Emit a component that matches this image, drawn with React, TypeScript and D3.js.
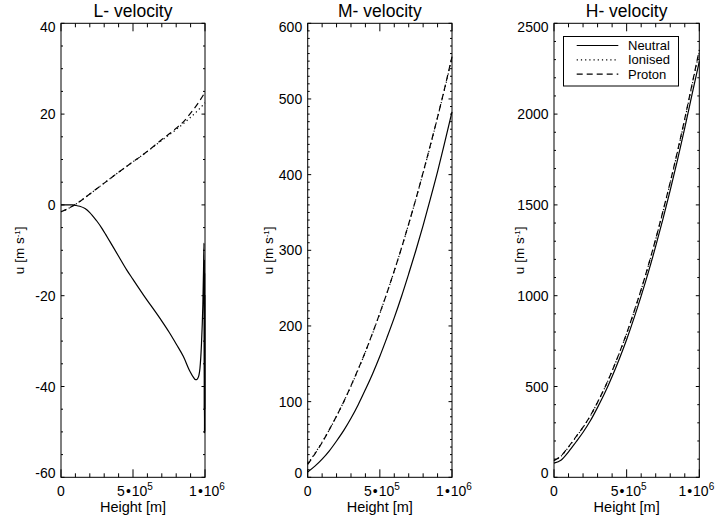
import React from 'react';
import * as d3 from 'd3';

// ---------- data ----------
const HEIGHT_GRID = [0, 50000, 100000, 150000, 200000, 250000, 300000, 350000, 400000, 450000, 500000,
  550000, 600000, 650000, 700000, 750000, 800000, 850000, 900000, 950000, 1000000];

const L_NEUTRAL_H = [0, 50000, 80000, 100000, 130000, 167000, 200000, 224000, 250000, 283000, 310000, 340000,
  400000, 456000, 500000, 572000, 687500, 750000, 803000, 850000, 896000, 920000, 935000, 942000, 950000,
  958000, 965000, 975000, 985000, 990000, 993000, 994500, 995500, 996500, 997500, 998500, 999500, 1000000];
const L_NEUTRAL_U = [0, 0, 0, -0.1, -0.3, -0.8, -1.7, -2.6, -3.6, -5.1, -6.5, -8.1,
  -11.3, -14.3, -16.4, -19.8, -25.0, -28.0, -30.8, -33.4, -36.7, -38.0, -38.5, -38.5, -38.2,
  -37.5, -36.0, -31.0, -22.0, -14.0, -8.4, -45, -12, -50.3, -15, -50, -20, -45];
const L_IONISED_U = [-1.5, -0.8, 0.1, 1.2, 2.4, 3.6, 4.8, 6.0, 7.2, 8.35, 9.5, 10.6, 11.8, 13.0, 14.2, 15.4,
  16.6, 17.9, 19.3, 20.8, 22.5];
const L_PROTON_U = [-1.5, -0.8, 0.1, 1.2, 2.4, 3.6, 4.8, 6.0, 7.2, 8.35, 9.5, 10.6, 11.8, 13.1, 14.4, 15.6,
  16.9, 18.3, 20.2, 22.3, 24.8];

const M_NEUTRAL_U = [7, 14.7, 24, 35, 48, 62, 78, 96, 116, 137, 160, 185, 211, 239, 269, 300, 333, 368, 404, 443, 483];
const M_IONISED_U = [18, 31.6, 46.6, 62.9, 80.7, 100, 120.4, 142.4, 165.7, 190.4, 216.5, 244, 272.9, 303.1, 334.8,
  367.9, 402.3, 438.2, 475.4, 514, 554];
const M_PROTON_U = [17, 31, 46, 63, 81, 100, 121, 143, 166, 191, 217, 244, 273, 303, 335, 368, 403, 439, 476, 515, 556];

const H_NEUTRAL_U = [78, 95, 140, 193, 248, 311, 385, 465, 555, 653, 759, 875, 999, 1131, 1273, 1423, 1581, 1748,
  1924, 2108, 2290];
const H_IONISED_U = [92, 117, 166, 220, 275, 338, 413, 494, 585, 684, 791, 908, 1033, 1166, 1310, 1462, 1622, 1791,
  1970, 2158, 2345];
const H_PROTON_U = [92, 119, 168, 222, 276, 339, 414, 495, 586, 686, 793, 910, 1035, 1169, 1313, 1466, 1626, 1796,
  1975, 2164, 2353];

const X_TICKS = [0, 500000, 1000000];
const X_TICK_MANT = ['0', '5', '1'];
const X_TICK_EXP = ['', '5', '6'];
const L_Y_TICKS = [-60, -40, -20, 0, 20, 40];
const M_Y_TICKS = [0, 100, 200, 300, 400, 500, 600];
const H_Y_TICKS = [0, 500, 1000, 1500, 2000, 2500];
const TITLES = ['L- velocity', 'M- velocity', 'H- velocity'];
const LEGEND_LABELS = ['Neutral', 'Ionised', 'Proton'];

// ---------- layout ----------
const W = 717, HGT = 523;
const TOP = 23.3, BOTTOM = 477.3;
const FONT = '"Liberation Sans", Arial, Helvetica, sans-serif';
const DASH = ['', '1.2,3', '6,4'];

type Series = { h: number[]; u: number[] };
type PanelCfg = {
  title: string; x0: number; x1: number; yDomain: [number, number]; yTicks: number[]; yMinor: number;
  ylabelX: number; series: Series[]; legend?: boolean; lastXShift: number;
};

const panels: PanelCfg[] = [
  { title: TITLES[0], x0: 61, x1: 205, yDomain: [-60, 40], yTicks: L_Y_TICKS, yMinor: 5, ylabelX: 19, lastXShift: 0,
    series: [{ h: L_NEUTRAL_H, u: L_NEUTRAL_U }, { h: HEIGHT_GRID, u: L_IONISED_U }, { h: HEIGHT_GRID, u: L_PROTON_U }] },
  { title: TITLES[1], x0: 307.7, x1: 452, yDomain: [0, 600], yTicks: M_Y_TICKS, yMinor: 10, ylabelX: 268, lastXShift: 0,
    series: [{ h: HEIGHT_GRID, u: M_NEUTRAL_U }, { h: HEIGHT_GRID, u: M_IONISED_U }, { h: HEIGHT_GRID, u: M_PROTON_U }] },
  { title: TITLES[2], x0: 554, x1: 699.3, yDomain: [0, 2500], yTicks: H_Y_TICKS, yMinor: 100, ylabelX: 519, lastXShift: -5,
    series: [{ h: HEIGHT_GRID, u: H_NEUTRAL_U }, { h: HEIGHT_GRID, u: H_IONISED_U }, { h: HEIGHT_GRID, u: H_PROTON_U }],
    legend: true },
];

function Panel({ cfg }: { cfg: PanelCfg }) {
  const x = d3.scaleLinear().domain([0, 1e6]).range([cfg.x0, cfg.x1]);
  const y = d3.scaleLinear().domain(cfg.yDomain).range([BOTTOM, TOP]);
  const xMinor = d3.range(0, 1e6 + 1, 1e5);
  const yMinor = d3.range(cfg.yDomain[0], cfg.yDomain[1] + 1e-6, cfg.yMinor);
  const cx = (cfg.x0 + cfg.x1) / 2;
  const cy = (TOP + BOTTOM) / 2;
  return (
    <g>
      <text x={cx} y={17} textAnchor="middle" fontSize={17.5} fontFamily={FONT}>{cfg.title}</text>
      {cfg.series.map((s, i) => {
        const pts = s.h.map((h, k) => [x(h), y(s.u[k])] as [number, number]);
        const l = d3.line<[number, number]>().x(d => d[0]).y(d => d[1]).curve(d3.curveMonotoneX);
        return <path key={i} d={l(pts) || ''} fill="none" stroke="#000" strokeWidth={1.2}
          strokeDasharray={DASH[i] || undefined} />;
      })}
      <rect x={cfg.x0} y={TOP} width={cfg.x1 - cfg.x0} height={BOTTOM - TOP} fill="none" stroke="#000" strokeWidth={1} />
      {xMinor.map((v, i) => {
        const major = X_TICKS.includes(v);
        const len = major ? 8 : 4;
        return (
          <g key={'xt' + i}>
            <line x1={x(v)} x2={x(v)} y1={BOTTOM} y2={BOTTOM - len} stroke="#000" strokeWidth={1} />
            <line x1={x(v)} x2={x(v)} y1={TOP} y2={TOP + len} stroke="#000" strokeWidth={1} />
          </g>
        );
      })}
      {X_TICKS.map((v, i) => {
        const shift = (X_TICK_EXP[i] ? 2 : 0) + (i === X_TICKS.length - 1 ? cfg.lastXShift : 0);
        return (
          <text key={'xl' + i} x={x(v) + shift} y={496} textAnchor="middle" fontSize={14} fontFamily={FONT}>
            {X_TICK_EXP[i] ? (
              <>
                {X_TICK_MANT[i]}<tspan dx={1}>•</tspan><tspan dx={1}>10</tspan>
                <tspan dy={-6} fontSize={10}>{X_TICK_EXP[i]}</tspan>
              </>
            ) : X_TICK_MANT[i]}
          </text>
        );
      })}
      <text x={cx} y={512} textAnchor="middle" fontSize={14.5} fontFamily={FONT}>Height [m]</text>
      {yMinor.map((v, i) => {
        const major = cfg.yTicks.some(t => Math.abs(t - v) < 1e-6);
        const len = major ? 3.5 : 2;
        return (
          <g key={'yt' + i}>
            <line x1={cfg.x0} x2={cfg.x0 + len} y1={y(v)} y2={y(v)} stroke="#000" strokeWidth={1} />
            <line x1={cfg.x1} x2={cfg.x1 - len} y1={y(v)} y2={y(v)} stroke="#000" strokeWidth={1} />
          </g>
        );
      })}
      {cfg.yTicks.map((v, i) => {
        const last = i === cfg.yTicks.length - 1;
        const shift = i === 0 ? -4 : last ? 4 : 0;
        return (
          <text key={'yl' + i} x={cfg.x0 - 5.5} y={y(v) + shift} dy="0.36em" textAnchor="end" fontSize={14} fontFamily={FONT}>
            {v}
          </text>
        );
      })}
      <text transform={`translate(${cfg.ylabelX},${cy}) rotate(-90)`} textAnchor="middle" dy="0.35em"
        fontSize={13.5} fontFamily={FONT}>
        u [m s<tspan dy={-4} fontSize={8}>-1</tspan><tspan dy={4}>]</tspan>
      </text>
      {cfg.legend ? (
        <g>
          <rect x={563.5} y={36.5} width={115} height={49.5} fill="#fff" stroke="#000" strokeWidth={1} />
          {LEGEND_LABELS.map((lab, i) => {
            const ly = 45.5 + i * 14.3;
            return (
              <g key={lab}>
                <line x1={576.7} x2={618.3} y1={ly} y2={ly} stroke="#000" strokeWidth={1.2}
                  strokeDasharray={DASH[i] || undefined} />
                <text x={628} y={ly} dy="0.35em" fontSize={13} fontFamily={FONT}>{lab}</text>
              </g>
            );
          })}
        </g>
      ) : null}
    </g>
  );
}

export default function App() {
  return (
    <svg width={W} height={HGT} style={{ position: 'absolute', left: 0, top: 0, background: '#fff' }}>
      <rect x={0} y={0} width={W} height={HGT} fill="#fff" />
      {panels.map((p, i) => <Panel key={i} cfg={p} />)}
    </svg>
  );
}
